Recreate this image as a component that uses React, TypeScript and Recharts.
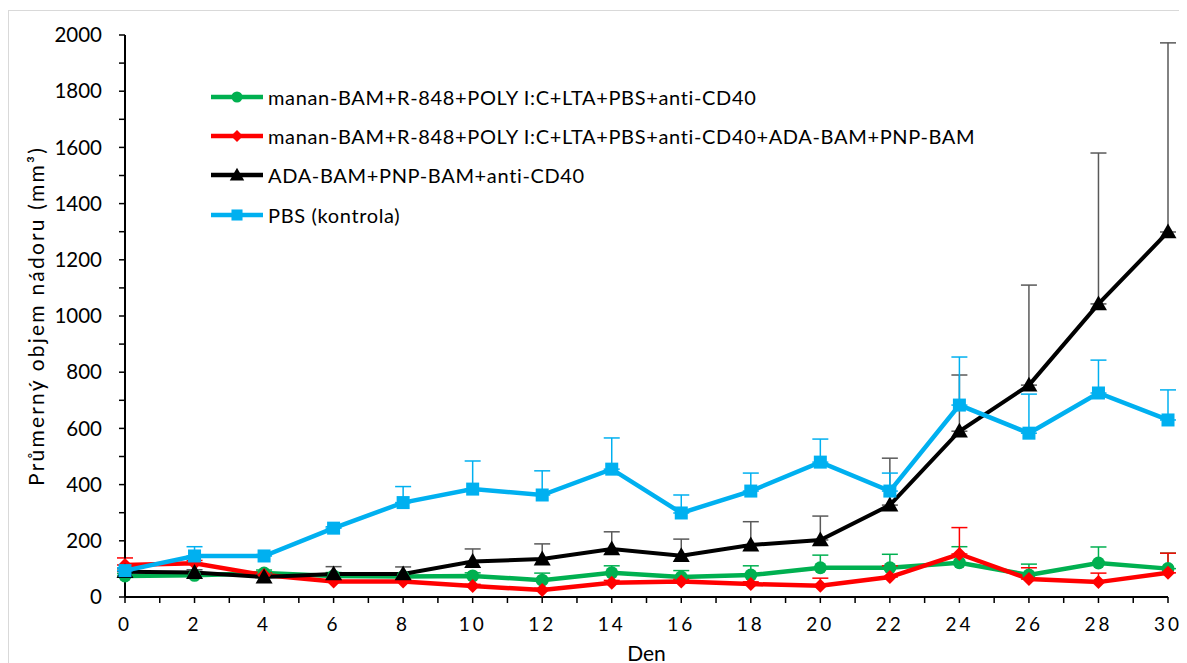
import React from 'react';
import { LineChart, Line, XAxis, YAxis, ErrorBar } from 'recharts';

const days = [0, 2, 4, 6, 8, 10, 12, 14, 16, 18, 20, 22, 24, 26, 28, 30];

const greenVals = [75, 77, 85, 75, 73, 75, 60, 86, 71, 78, 104, 104, 122, 78, 121, 101];
const greenErr = [8, 8, 11, 12, 12, 11, 25, 25, 23, 33, 45, 48, 57, 39, 57, 55];

const redVals = [114, 120, 78, 55, 55, 39, 25, 51, 55, 46, 40, 71, 153, 64, 53, 86];
const redErr = [25, 10, 8, 8, 8, 6, 6, 8, 8, 8, 27, 40, 94, 40, 32, 70];

const blackVals = [90, 87, 71, 82, 82, 126, 135, 171, 147, 185, 203, 327, 590, 754, 1043, 1299];
const blackErr = [10, 10, 10, 26, 25, 45, 54, 61, 59, 83, 85, 167, 200, 356, 537, 673];

const blueVals = [94, 146, 146, 245, 336, 384, 363, 455, 299, 377, 480, 377, 683, 583, 726, 630];
const blueErr = [10, 33, 5, 5, 57, 100, 86, 111, 64, 64, 82, 64, 171, 139, 117, 107];

const xTicks = [0, 1, 2, 3, 4, 5, 6, 7, 8, 9, 10, 11, 12, 13, 14, 15, 16, 17, 18, 19, 20, 21, 22, 23, 24, 25, 26, 27, 28, 29, 30];
const yTicks = [0, 100, 200, 300, 400, 500, 600, 700, 800, 900, 1000, 1100, 1200, 1300, 1400, 1500, 1600, 1700, 1800, 1900, 2000];

const seriesNames = [
  'manan-BAM+R-848+POLY I:C+LTA+PBS+anti-CD40',
  'manan-BAM+R-848+POLY I:C+LTA+PBS+anti-CD40+ADA-BAM+PNP-BAM',
  'ADA-BAM+PNP-BAM+anti-CD40',
  'PBS (kontrola)',
];

const Y_LABEL = 'Průmerný objem nádoru (mm³)';
const X_LABEL = 'Den';

const GREEN = '#00B050';
const RED = '#FF0000';
const BLACK = '#000000';
const BLUE = '#00B0F0';
const FONT = 'Lato, "Open Sans", sans-serif';

const data = days.map((d, i) => ({
  day: d,
  green: greenVals[i],
  greenErr: [0, greenErr[i]],
  red: redVals[i],
  redErr: [0, redErr[i]],
  black: blackVals[i],
  blackErr: [0, blackErr[i]],
  blue: blueVals[i],
  blueErr: [0, blueErr[i]],
}));

type Shape = 'circle' | 'diamond' | 'triangle' | 'square';

const drawShape = (shape: Shape, cx: number, cy: number, color: string, s = 1) => {
  if (shape === 'circle') return <circle cx={cx} cy={cy} r={6.5 * s} fill={color} />;
  if (shape === 'diamond') {
    const r = 7 * s;
    return <polygon points={`${cx},${cy - r} ${cx + r},${cy} ${cx},${cy + r} ${cx - r},${cy}`} fill={color} />;
  }
  if (shape === 'triangle') {
    const r = 8.5 * s;
    return <polygon points={`${cx},${cy - r} ${cx + r},${cy + r * 0.75} ${cx - r},${cy + r * 0.75}`} fill={color} />;
  }
  const h = 6.5 * s;
  return <rect x={cx - h} y={cy - h} width={2 * h} height={2 * h} fill={color} />;
};

const makeDot = (shape: Shape, color: string) => (props: any) => {
  const { cx, cy, index } = props;
  if (cx == null || cy == null) return <g key={index} />;
  return <g key={`${shape}-${index}`}>{drawShape(shape, cx, cy, color)}</g>;
};

const legendItems: { name: string; color: string; shape: Shape }[] = [
  { name: seriesNames[0], color: GREEN, shape: 'circle' },
  { name: seriesNames[1], color: RED, shape: 'diamond' },
  { name: seriesNames[2], color: BLACK, shape: 'triangle' },
  { name: seriesNames[3], color: BLUE, shape: 'square' },
];

const LegendBox = () => (
  <div
    style={{
      position: 'absolute',
      left: 201,
      top: 66,
      fontFamily: FONT,
      fontSize: 20,
      letterSpacing: 0.65,
      color: '#000',
    }}
  >
    {legendItems.map((it) => (
      <div key={it.name} style={{ display: 'flex', alignItems: 'center', height: 39.4 }}>
        <svg width={58} height={20} style={{ flex: 'none' }}>
          <line x1={1} y1={10} x2={53} y2={10} stroke={it.color} strokeWidth={4.5} />
          {drawShape(it.shape, 27, 10, it.color, 0.85)}
        </svg>
        <span style={{ whiteSpace: 'nowrap' }}>{it.name}</span>
      </div>
    ))}
  </div>
);

const yTickFmt = (v: number) => (v % 200 === 0 ? String(v) : '');
const xTickFmt = (v: number) => (v % 2 === 0 ? String(v) : '');

export default function App() {
  return (
    <div
      style={{
        position: 'relative',
        width: 1178,
        height: 660,
        marginTop: 2,
        border: '1px solid #d9d9d9',
        background: '#fff',
        overflow: 'hidden',
      }}
    >
      <LineChart
        width={1178}
        height={660}
        data={data}
        margin={{ top: 24, right: 19, left: 22, bottom: 12 }}
      >
        <XAxis
          dataKey="day"
          type="number"
          domain={[0, 30]}
          ticks={xTicks}
          tickFormatter={xTickFmt}
          interval={0}
          height={62}
          tickSize={6}
          tickMargin={15}
          axisLine={{ stroke: '#000', strokeWidth: 2 }}
          tickLine={{ stroke: '#000', strokeWidth: 1.5 }}
          tick={{ fill: '#000', fontSize: 19, fontFamily: FONT, letterSpacing: 3 }}
          label={{ value: X_LABEL, position: 'insideBottom', offset: -2, style: { fill: '#000', fontSize: 21, fontFamily: FONT } }}
        />
        <YAxis
          type="number"
          domain={[0, 2000]}
          ticks={yTicks}
          tickFormatter={yTickFmt}
          interval={0}
          width={94}
          tickSize={6}
          tickMargin={17}
          axisLine={{ stroke: '#000', strokeWidth: 2 }}
          tickLine={{ stroke: '#000', strokeWidth: 1.5 }}
          tick={{ fill: '#000', fontSize: 20.5, fontFamily: FONT }}
          label={{
            value: Y_LABEL,
            angle: -90,
            position: 'insideLeft',
            offset: 6,
            style: { textAnchor: 'middle', fill: '#000', fontSize: 21, fontFamily: FONT, letterSpacing: 2.2 },
          }}
        />
        <Line
          dataKey="green"
          name={seriesNames[0]}
          stroke={GREEN}
          strokeWidth={4.5}
          dot={makeDot('circle', GREEN)}
          activeDot={false}
          isAnimationActive={false}
        >
          <ErrorBar dataKey="greenErr" direction="y" width={8} stroke={GREEN} strokeWidth={1.5} isAnimationActive={false} />
        </Line>
        <Line
          dataKey="red"
          name={seriesNames[1]}
          stroke={RED}
          strokeWidth={4.5}
          dot={makeDot('diamond', RED)}
          activeDot={false}
          isAnimationActive={false}
        >
          <ErrorBar dataKey="redErr" direction="y" width={8} stroke={RED} strokeWidth={1.5} isAnimationActive={false} />
        </Line>
        <Line
          dataKey="black"
          name={seriesNames[2]}
          stroke={BLACK}
          strokeWidth={4}
          dot={makeDot('triangle', BLACK)}
          activeDot={false}
          isAnimationActive={false}
        >
          <ErrorBar dataKey="blackErr" direction="y" width={8} stroke="#595959" strokeWidth={1.5} isAnimationActive={false} />
        </Line>
        <Line
          dataKey="blue"
          name={seriesNames[3]}
          stroke={BLUE}
          strokeWidth={4.5}
          dot={makeDot('square', BLUE)}
          activeDot={false}
          isAnimationActive={false}
        >
          <ErrorBar dataKey="blueErr" direction="y" width={8} stroke={BLUE} strokeWidth={1.5} isAnimationActive={false} />
        </Line>
      </LineChart>
      <LegendBox />
    </div>
  );
}
